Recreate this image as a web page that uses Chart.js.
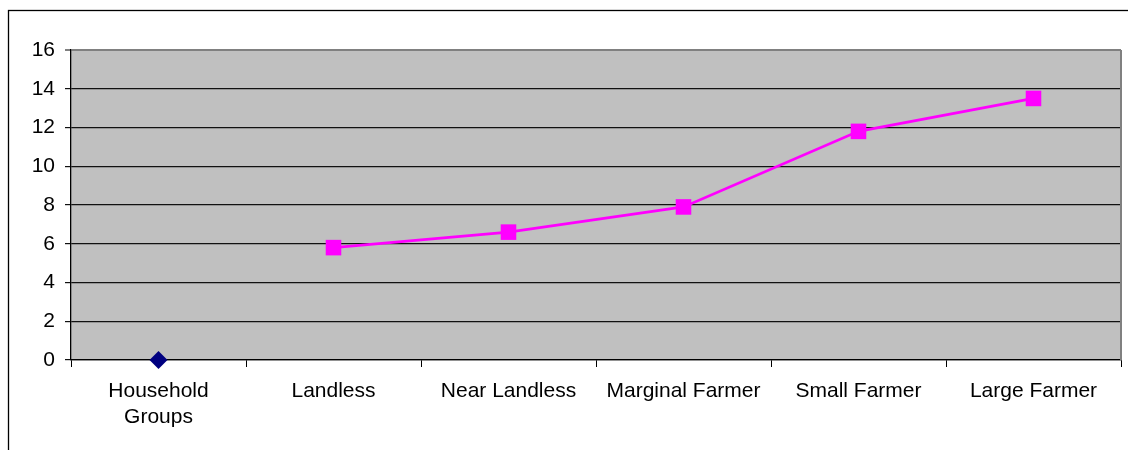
<!DOCTYPE html>
<html>
<head>
<meta charset="utf-8">
<title>Household Groups</title>
<script src="https://cdn.jsdelivr.net/npm/chart.js@4/dist/chart.umd.min.js"></script>
<style>
  html, body { margin: 0; padding: 0; background: #fff; }
  #wrap { width: 1128px; height: 450px; }
</style>
</head>
<body>
<div id="wrap"><canvas id="c" width="1128" height="450"></canvas></div>
<script>
// Category labels along the x axis
const categories = [['Household', 'Groups'], 'Landless', 'Near Landless', 'Marginal Farmer', 'Small Farmer', 'Large Farmer'];
// Reference point for the group header column
const baseValues = [0, null, null, null, null, null];
// Values per household group
const groupValues = [null, 5.8, 6.6, 7.9, 11.8, 13.5];
// Y axis range and step
const yMin = 0, yMax = 16, yStep = 2;

const FONT = { family: '"Liberation Sans", Arial, sans-serif', size: 21 };

// Outer frame plus grey plot background and right plot border
const framePlugin = {
  id: 'frame',
  beforeDraw(chart) {
    const { ctx, chartArea: a } = chart;
    ctx.save();
    ctx.fillStyle = '#ffffff';
    ctx.fillRect(0, 0, chart.width, chart.height);
    ctx.strokeStyle = '#000000';
    ctx.lineWidth = 1.3;
    ctx.strokeRect(8.5, 10.5, 1300, 600);
    ctx.fillStyle = '#c0c0c0';
    ctx.fillRect(a.left, a.top, a.right - a.left, a.bottom - a.top);
    ctx.restore();
  },
  beforeDatasetsDraw(chart) {
    const { ctx, chartArea: a } = chart;
    ctx.save();
    ctx.strokeStyle = '#808080';
    ctx.lineWidth = 2;
    ctx.beginPath();
    ctx.moveTo(a.right, a.top);
    ctx.lineTo(a.right, a.bottom);
    ctx.stroke();
    ctx.restore();
  }
};

new Chart(document.getElementById('c'), {
  type: 'line',
  data: {
    labels: categories,
    datasets: [
      {
        data: baseValues,
        borderColor: '#000080',
        backgroundColor: '#000080',
        pointStyle: 'rectRot',
        pointRadius: 9,
        pointBorderWidth: 0,
        showLine: false,
        clip: false
      },
      {
        data: groupValues,
        borderColor: '#ff00ff',
        backgroundColor: '#ff00ff',
        borderWidth: 2.7,
        pointStyle: 'rect',
        pointRadius: 11,
        pointBorderWidth: 0,
        tension: 0,
        clip: false
      }
    ]
  },
  options: {
    responsive: false,
    animation: false,
    devicePixelRatio: 1,
    layout: { autoPadding: false, padding: { top: 50, right: 7, bottom: 0, left: 0 } },
    plugins: { legend: { display: false }, tooltip: { enabled: false } },
    scales: {
      x: {
        offset: true,
        grid: {
          offset: true,
          drawOnChartArea: false,
          drawTicks: true,
          tickLength: 7,
          color: '#000000'
        },
        border: { display: true, color: '#000000', width: 1.3 },
        ticks: {
          color: '#000000',
          font: FONT,
          padding: 12,
          maxRotation: 0,
          autoSkip: false
        },
        afterFit(scale) {
          scale.height = 90;
          scale.paddingLeft = 0;
          scale.paddingRight = 0;
        }
      },
      y: {
        min: yMin,
        max: yMax,
        grid: {
          color: (c) => (c.tick && c.tick.value === yMax ? '#808080' : '#111111'),
          lineWidth: (c) => (c.tick && c.tick.value === yMax ? 2 : 1.2),
          drawTicks: true,
          tickLength: 6
        },
        border: { display: true, color: '#000000', width: 1.3 },
        ticks: {
          stepSize: yStep,
          color: '#000000',
          font: FONT,
          padding: 10
        },
        afterFit(scale) { scale.width = 71; }
      }
    }
  },
  plugins: [framePlugin]
});
</script>
</body>
</html>
